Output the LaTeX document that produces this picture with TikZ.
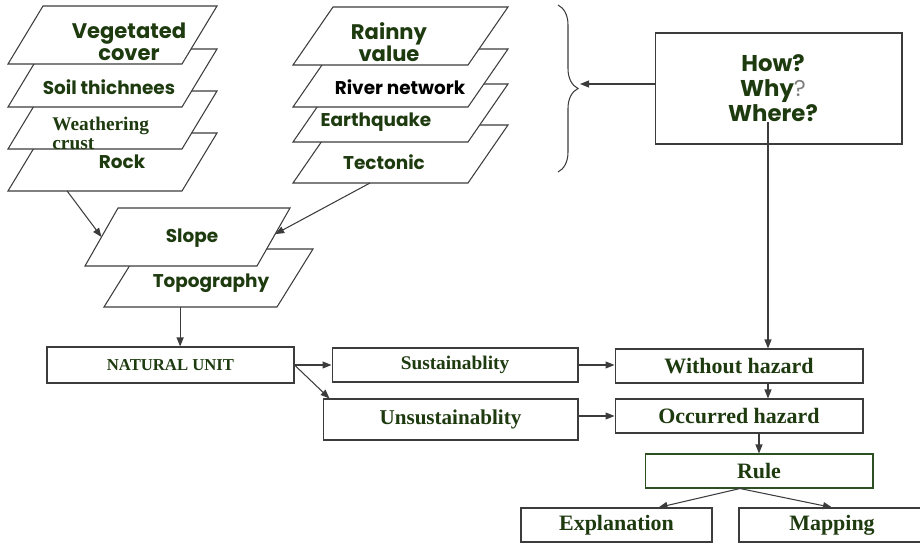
\documentclass[tikz,border=0pt]{standalone}
\usepackage{fontspec}
\setmainfont{Liberation Serif}
\newfontfamily\gothic{Poppins}
\usetikzlibrary{arrows.meta,positioning,calc,decorations.pathreplacing}
\definecolor{HazardGreen}{RGB}{30,58,15}
\definecolor{EdgeGray}{RGB}{60,60,60}
\definecolor{RuleGreen}{RGB}{45,80,35}
% one slanted map sheet: name, bottom-left x, bottom-left y, slant, width
\newcommand\sheet[5]{%
  \filldraw[sheet] (#2,#3) coordinate (#1-bl) -- ++(#5,0) coordinate (#1-br)
    -- ++(#4,-58) coordinate (#1-tr) -- ++(-#5,0) coordinate (#1-tl) -- cycle;}

\begin{document}
\begin{tikzpicture}[x=0.02cm,y=-0.02cm,
      sheet/.style={draw=EdgeGray,fill=white,line width=0.6pt},
      laytext/.style={text=HazardGreen,align=center,inner sep=0pt,
        font=\gothic\bfseries\fontsize{10.5}{12}\selectfont},
      bigtext/.style={laytext,font=\gothic\bfseries\fontsize{12}{12.5}\selectfont},
      box/.style={draw=EdgeGray,fill=white,line width=0.6pt,minimum height=0.68cm,
        inner sep=0pt,text=HazardGreen,font=\bfseries\fontsize{12.5}{14}\selectfont},
      flow/.style={-{Triangle[length=1.8mm,width=1.4mm]},line width=0.6pt,draw=EdgeGray}
    ]
      \useasboundingbox (0,0) rectangle (920,544);
      % left stack, lowest sheet first
      \sheet{rock}{8}{191}{35}{174}
      \sheet{weather}{8}{149}{35}{174}
      \sheet{soil}{8}{107}{35}{174}
      \sheet{veget}{8}{64}{35}{174}
      \node[bigtext] (vegtx) at (129,42) {Vegetated\\cover};
      \node[laytext] (soiltx) at (109,87) {Soil thichnees};
      \node[anchor=north west,align=left,inner sep=0pt,text=HazardGreen,
        font=\bfseries\fontsize{11}{10.8}\selectfont] (weatx) at (52,117) {Weathering\\crust};
      \node[laytext] (rocktx) at (122,162) {Rock};
      % middle stack
      \sheet{tect}{293}{183}{40}{175}
      \sheet{quake}{293}{142}{40}{175}
      \sheet{river}{293}{107}{40}{175}
      \sheet{rain}{293}{65}{40}{175}
      \node[bigtext] (raintx) at (389,42) {Rainny\\value};
      \node[laytext,text=black] (rivertx) at (400,87) {River network};
      \node[laytext] (quaketx) at (376,122) {Earthquake};
      \node[laytext] (tecttx) at (384,162) {Tectonic};
      % slope and topography
      \sheet{topo}{104}{307}{36}{173}
      \sheet{slope}{85}{266}{33}{172}
      \node[laytext] (slopetx) at (192,238) {Slope};
      \node[laytext] (topotx) at (211,283) {Topography};
      % questions
      \draw[decorate,decoration={brace,amplitude=0.4cm},draw=EdgeGray,line width=0.6pt]
        (558,5) -- (558,172);
      \coordinate (bracetip) at (580,84);
      \node[draw=EdgeGray,line width=0.6pt,minimum width=4.94cm,minimum height=2.22cm]
        (ask) at (778.5,88.5) {};
      \node[bigtext,font=\gothic\bfseries\fontsize{13}{14.2}\selectfont] (asktx) at (773,88)
        {How?\\Why{\mdseries\color{gray}?}\\Where?};
      \coordinate (drop) at (768,122);
      % units and hazards
      \node[box,minimum width=4.94cm,minimum height=0.72cm,
        font=\bfseries\fontsize{9.5}{11}\selectfont] (nat) at (170.5,365) {NATURAL UNIT};
      \node[box,minimum width=4.92cm,font=\bfseries\fontsize{11}{13}\selectfont]
        (sust) at (455,365) {Sustainablity};
      \node[box,minimum width=5.1cm,minimum height=0.82cm,
        font=\bfseries\fontsize{12}{14}\selectfont] (unsust) at (450.5,419.5) {Unsustainablity};
      \node[box,minimum width=4.96cm] (without) at (739,366) {Without hazard};
      \node[box,minimum width=4.96cm] (occur) at (739,416) {Occurred hazard};
      \node[box,draw=RuleGreen,minimum width=4.56cm] (rule) at (759,471) {Rule};
      \node[box,minimum width=3.82cm] (explain) at (616.5,525) {Explanation};
      \node[box,minimum width=3.72cm] (mapping) at (832,525) {Mapping};
      % connectors
      \draw[flow] ($(rock-bl)!0.34!(rock-br)$) -- ($(slope-bl)!0.5!(slope-tl)$);
      \draw[flow] ($(tect-bl)!0.44!(tect-br)$) -- ($(slope-br)!0.55!(slope-tr)$);
      \coordinate (topofoot) at ($(topo-bl)!0.44!(topo-br)$);
      \draw[flow] (topofoot) -- (topofoot |- nat.north);
      \draw[flow] (bracetip -| ask.west) -- (bracetip);
      \draw[flow] (drop) -- (drop |- without.north);
      \draw[flow] (nat.east) -- (sust.west);
      \draw[flow] (nat.east) -- ([xshift=0.14cm]unsust.north west);
      \draw[flow] (sust.east) -- (sust.east -| without.west);
      \draw[flow] (occur.west -| unsust.east) -- (occur.west);
      \draw[flow] (drop |- without.south) -- (drop |- occur.north);
      \draw[flow] (rule.north |- occur.south) -- (rule.north);
      \draw[flow] ([xshift=-0.38cm]rule.south) -- ([xshift=0.84cm]explain.north);
      \draw[flow] ([xshift=-0.38cm]rule.south) -- (mapping.north);
    \end{tikzpicture}
\end{document}
